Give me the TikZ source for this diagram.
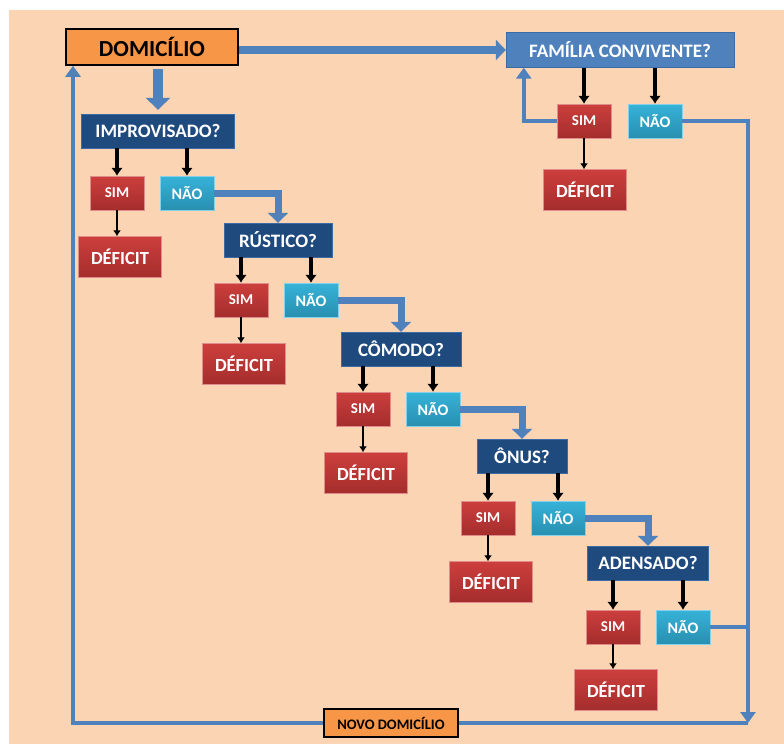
\documentclass[tikz,border=0pt]{standalone}
\usepackage{fontspec}
\setmainfont{Carlito}
\usepackage{xcolor}
\usepackage{tikz}
\usetikzlibrary{arrows.meta,positioning,calc}
\definecolor{peach}{HTML}{FBD4B4}
\definecolor{navy}{HTML}{1F4A7E}
\definecolor{steel}{HTML}{4F81BD}
\definecolor{brick}{HTML}{CC3F3D}
\definecolor{brickdark}{HTML}{A42D2C}
\definecolor{sky}{HTML}{37B2D8}
\definecolor{skydark}{HTML}{2890B0}
\definecolor{amber}{HTML}{F79646}

\begin{document}
\begin{tikzpicture}[x=1pt, y=-1pt,
startbox/.style={draw=black, line width=1.6pt, fill=amber, inner sep=0pt, font=\bfseries},
question/.style={draw=steel!60!navy, fill=navy, text=white, inner sep=0pt, minimum height=34pt, font=\fontsize{19}{20}\selectfont\bfseries},
simbox/.style={draw=brick!60, top color=brick, bottom color=brickdark, text=white, inner sep=0pt, minimum width=54pt, minimum height=34pt, font=\fontsize{15}{16}\selectfont\bfseries},
naobox/.style={draw=sky!60, top color=sky, bottom color=skydark, text=white, inner sep=0pt, minimum width=54pt, minimum height=34pt, font=\fontsize{16}{17}\selectfont\bfseries},
defbox/.style={draw=brick!60, top color=brick, bottom color=brickdark, text=white, inner sep=0pt, minimum width=83pt, minimum height=41pt, font=\fontsize{18.5}{19}\selectfont\bfseries},
flow/.style={draw=steel, line width=7pt, -{Triangle[width=20pt,length=10pt]}},
back/.style={draw=steel, line width=4.5pt, -{Triangle[width=15pt,length=11pt]}},
answer/.style={-{Latex[length=8pt,width=12pt]}, line width=3.2pt},
link/.style={-{Latex[length=6pt,width=8pt]}, line width=1.4pt}
]
\useasboundingbox (0,0) rectangle (784,744);
\fill[peach] (9,10) rectangle (784,744);
\node[startbox, minimum width=172pt, minimum height=36pt, font=\fontsize{23}{24}\selectfont\bfseries] (domicilio) at (152,47) {DOMICÍLIO};
\node[question, minimum width=153pt] (improvisado) at (158,131) {IMPROVISADO?};
\node[simbox] (sim1) at (117,193) {SIM};
\node[naobox] (nao1) at (187,193) {NÃO};
\node[defbox] (def1) at (120,257) {DÉFICIT};
\node[question, minimum width=108pt] (rustico) at (278,240) {RÚSTICO?};
\node[simbox] (sim2) at (241,300) {SIM};
\node[naobox] (nao2) at (311,300) {NÃO};
\node[defbox] (def2) at (244,364) {DÉFICIT};
\node[question, minimum width=120pt] (comodo) at (401,349) {CÔMODO?};
\node[simbox] (sim3) at (363,409) {SIM};
\node[naobox] (nao3) at (433,409) {NÃO};
\node[defbox] (def3) at (366,473) {DÉFICIT};
\node[question, minimum width=90pt] (onus) at (522,456) {ÔNUS?};
\node[simbox] (sim4) at (488,518) {SIM};
\node[naobox] (nao4) at (558,518) {NÃO};
\node[defbox] (def4) at (491,582) {DÉFICIT};
\node[question, minimum width=121pt] (adensado) at (648,563) {ADENSADO?};
\node[simbox] (sim5) at (613,627) {SIM};
\node[naobox] (nao5) at (683,627) {NÃO};
\node[defbox] (def5) at (616,690) {DÉFICIT};
\node[question, fill=steel, minimum width=228pt, minimum height=35pt] (familia) at (620,50) {FAMÍLIA CONVIVENTE?};
\node[simbox] (sim6) at (584,121) {SIM};
\node[naobox] (nao6) at (655,121) {NÃO};
\node[defbox] (def6) at (585,190) {DÉFICIT};
\node[startbox, minimum width=134pt, minimum height=28pt, font=\fontsize{14.5}{15}\selectfont\bfseries] (novo) at (391,723) {NOVO DOMICÍLIO};
\coordinate (rcorner) at (748,723);
\coordinate (lcorner) at (73,723);
\draw[flow, line width=8pt] (domicilio.east |- familia.west) -- (familia.west);
\draw[flow, line width=10pt, -{Triangle[width=24pt,length=12pt]}, shorten <=3pt, shorten >=4pt] (improvisado.north |- domicilio.south) -- (improvisado.north);
\draw[flow] (nao1.east) -| (rustico.north);
\draw[flow] (nao2.east) -| (comodo.north);
\draw[flow] (nao3.east) -| (onus.north);
\draw[flow] (nao4.east) -| (adensado.north);
\draw[answer] (sim1.north |- improvisado.south) -- (sim1.north);
\draw[answer] (nao1.north |- improvisado.south) -- (nao1.north);
\draw[link] (sim1.south) -- (sim1.south |- def1.north);
\draw[answer] (sim2.north |- rustico.south) -- (sim2.north);
\draw[answer] (nao2.north |- rustico.south) -- (nao2.north);
\draw[link] (sim2.south) -- (sim2.south |- def2.north);
\draw[answer] (sim3.north |- comodo.south) -- (sim3.north);
\draw[answer] (nao3.north |- comodo.south) -- (nao3.north);
\draw[link] (sim3.south) -- (sim3.south |- def3.north);
\draw[answer] (sim4.north |- onus.south) -- (sim4.north);
\draw[answer] (nao4.north |- onus.south) -- (nao4.north);
\draw[link] (sim4.south) -- (sim4.south |- def4.north);
\draw[answer] (sim5.north |- adensado.south) -- (sim5.north);
\draw[answer] (nao5.north |- adensado.south) -- (nao5.north);
\draw[link] (sim5.south) -- (sim5.south |- def5.north);
\draw[answer] (sim6.north |- familia.south) -- (sim6.north);
\draw[answer] (nao6.north |- familia.south) -- (nao6.north);
\draw[link] (sim6.south) -- (sim6.south |- def6.north);
\draw[back] (sim6.west) -| ([xshift=18pt]familia.south west);
\draw[back] (nao6.east) -| (rcorner);
\draw[back, -] (nao5.east) -- (nao5.east -| rcorner);
\draw[back, -] (rcorner) -- (novo.east);
\draw[back] (novo.west) -- (lcorner) -- (lcorner |- domicilio.south);
\end{tikzpicture}
\end{document}
